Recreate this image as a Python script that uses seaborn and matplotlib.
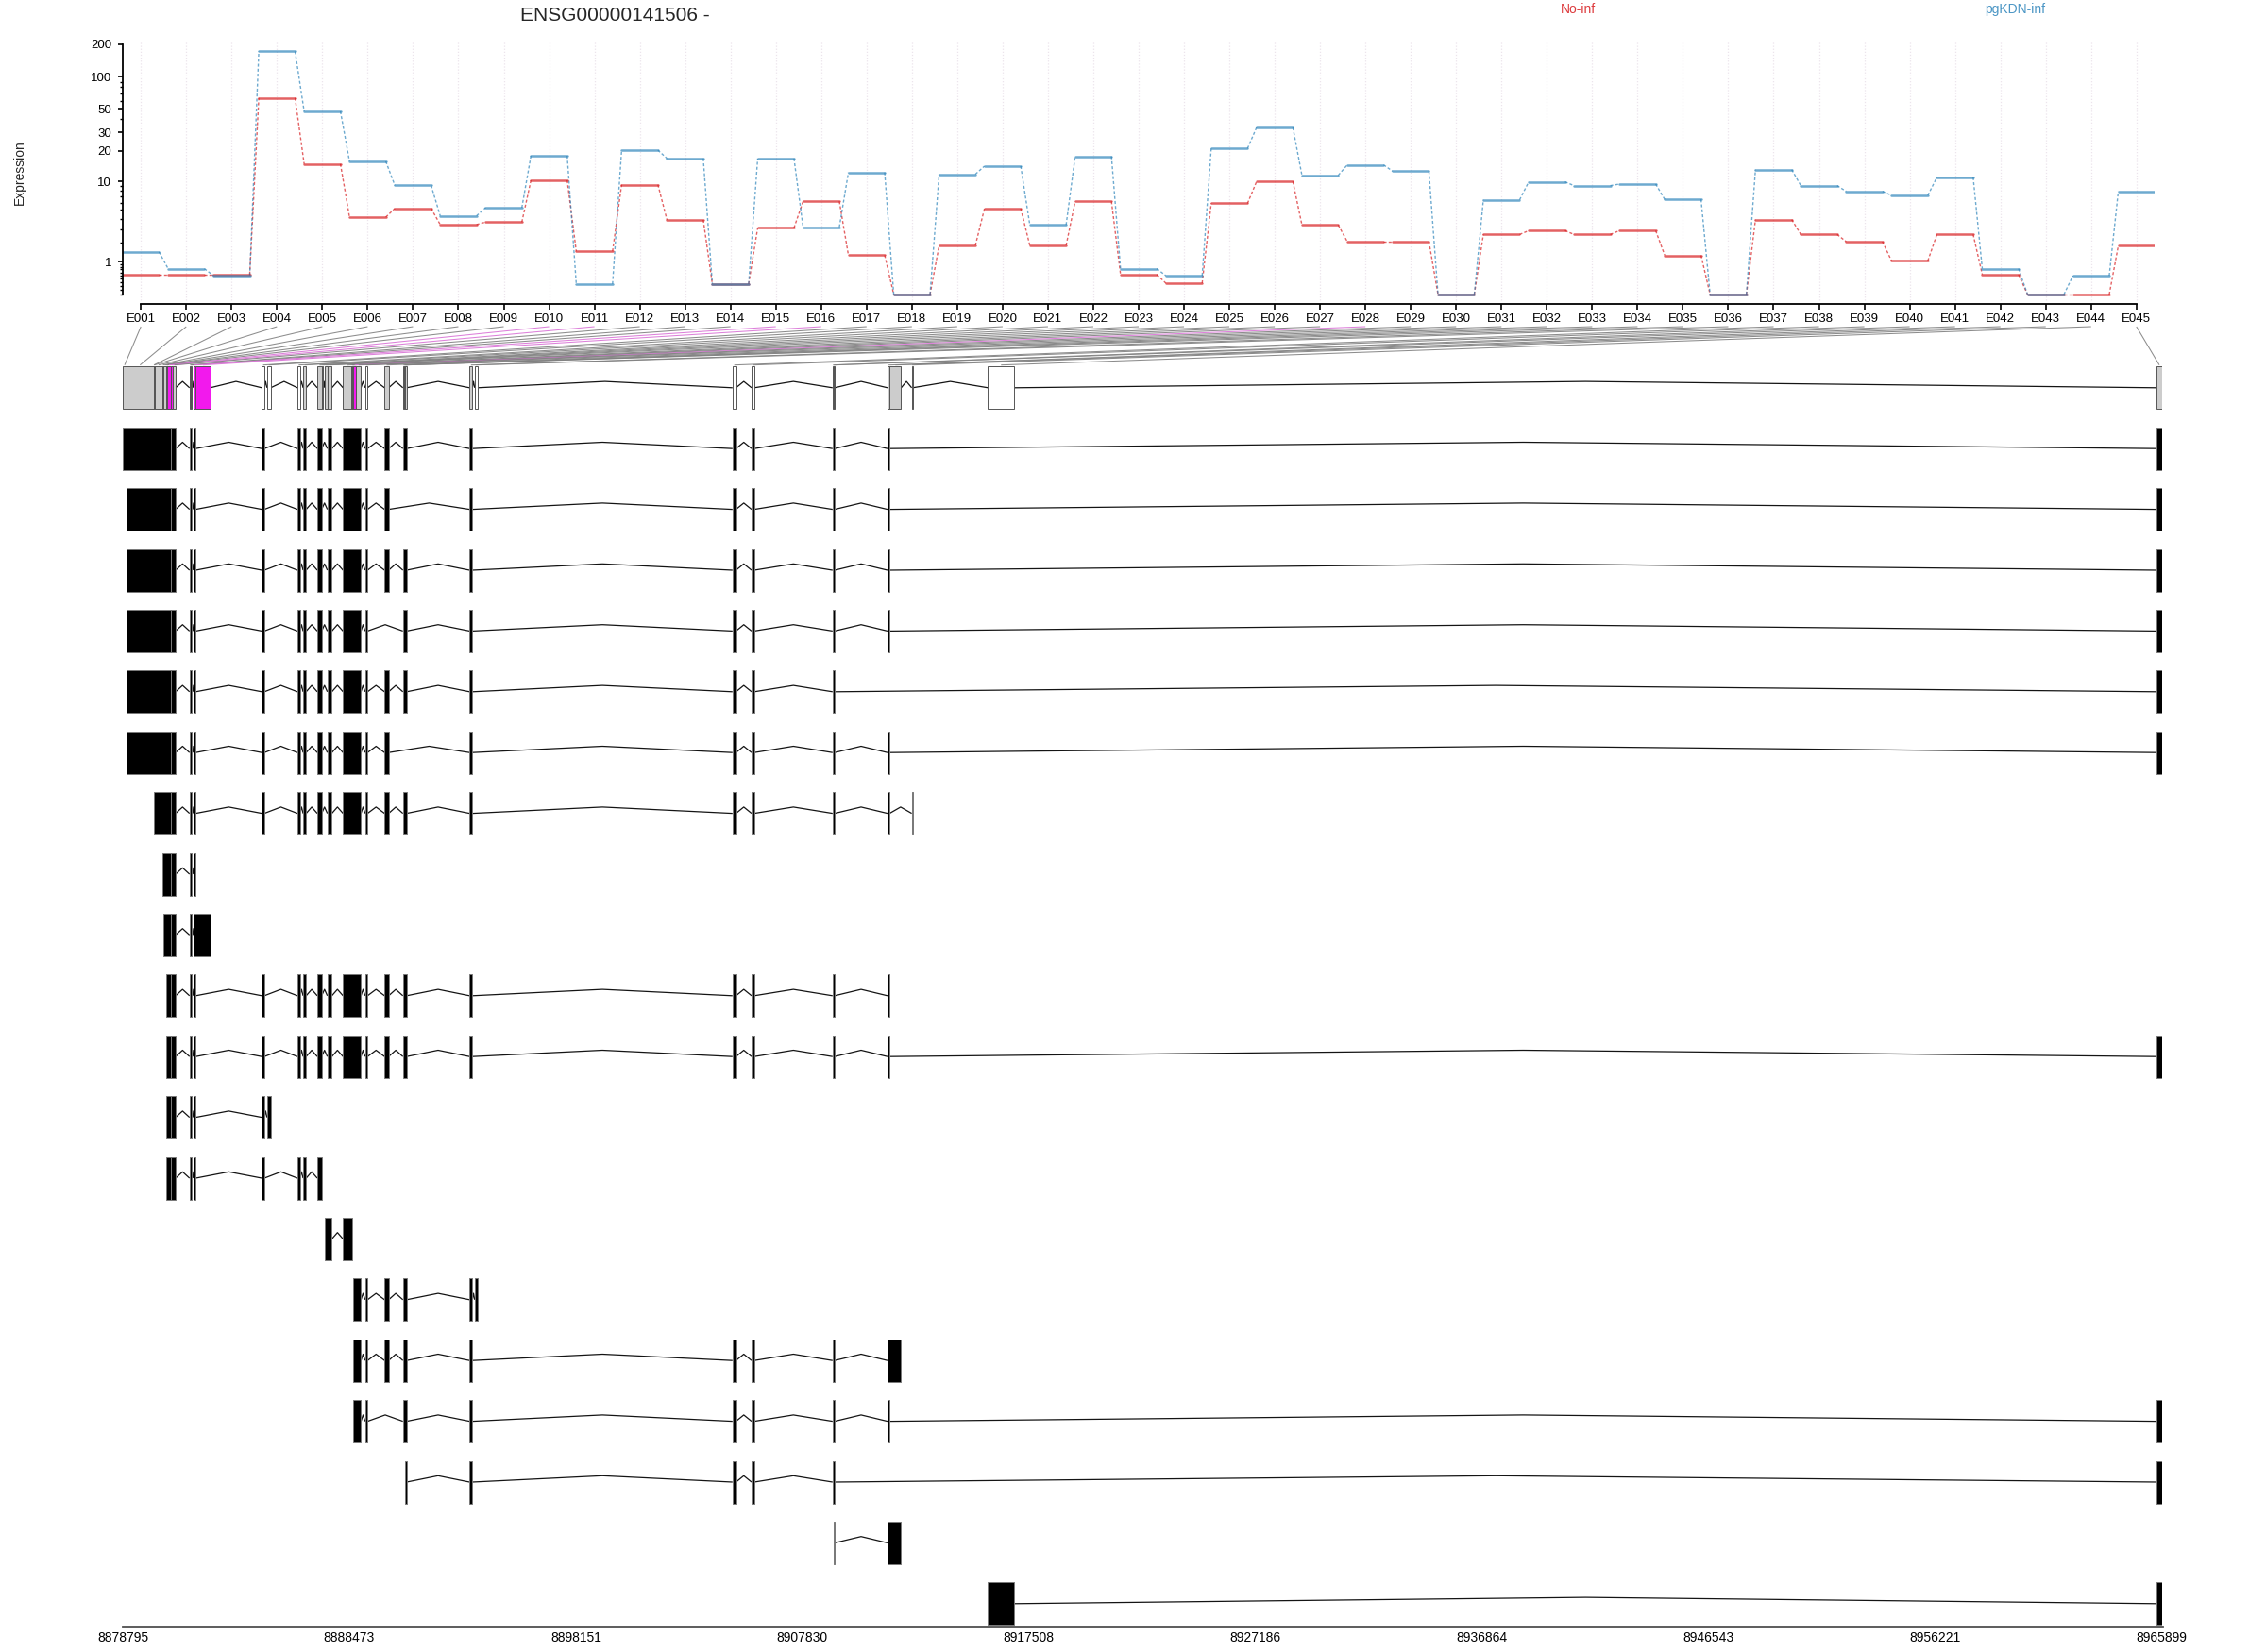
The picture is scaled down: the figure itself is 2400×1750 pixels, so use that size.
import numpy as np
import pandas as pd
import matplotlib
matplotlib.use("Agg")
import matplotlib.pyplot as plt
import seaborn as sns
from matplotlib.patches import Rectangle
from matplotlib.collections import LineCollection

sns.set_theme(style="ticks")
plt.rcParams['font.family'] = ['Liberation Sans', 'DejaVu Sans']

# ---------------- data ----------------
gene_title = "ENSG00000141506 -"
conditions = ["No-inf", "pgKDN-inf"]
exon_ids = ["E%03d" % i for i in range(1, 46)]

expr_noinf = [0.53, 0.53, 0.53, 63.6, 14.9, 4.16, 5.2, 3.4, 3.64, 10.25,
              1.5, 9.25, 3.86, 0.25, 3.1, 6.2, 1.3, 0.0, 1.83, 5.18,
              1.83, 6.2, 0.53, 0.27, 5.9, 9.96, 3.37, 2.07, 2.07, 0.0,
              2.57, 2.87, 2.57, 2.87, 1.29, 0.0, 3.89, 2.57, 2.07, 1.04,
              2.57, 0.53, 0.0, 0.0, 1.81]
expr_pgkdn = [1.47, 0.73, 0.49, 172.0, 47.5, 15.8, 9.1, 4.3, 5.3, 17.9,
              0.25, 20.3, 16.9, 0.25, 16.9, 3.17, 12.3, 0.0, 11.8, 14.2,
              3.37, 17.7, 0.73, 0.49, 21.1, 33.5, 11.5, 14.6, 12.65, 0.0,
              6.44, 9.89, 9.05, 9.39, 6.5, 0.0, 13.1, 9.05, 7.91, 7.17,
              11.0, 0.73, 0.0, 0.49, 7.91]

y_major = [1, 10, 20, 30, 50, 100, 200]
y_minor = [0, 0.1, 0.2, 0.3, 0.4, 0.5, 0.6, 0.7, 0.8, 0.9,
           2, 3, 4, 5, 6, 7, 8, 9, 40, 60, 70, 80, 90]

bin_start = [8878795, 8878956, 8880114, 8880138, 8880166, 8880477, 8880542, 8880642, 8880683, 8880703,
             8880864, 8880945, 8881647, 8881699, 8881812, 8881913, 8884736, 8884954, 8886257, 8886499,
             8887104, 8887294, 8887427, 8887536, 8888205, 8888568, 8888605, 8888637, 8888770, 8889149,
             8889980, 8890762, 8890815, 8890867, 8893610, 8893828, 8904843, 8905658, 8909119, 8909159,
             8911466, 8911555, 8912499, 8915762, 8965697]
bin_end = [8878956, 8880114, 8880138, 8880166, 8880477, 8880542, 8880642, 8880683, 8880703, 8880840,
           8880945, 8881054, 8881699, 8881752, 8881913, 8882534, 8884845, 8885116, 8886366, 8886632,
           8887294, 8887366, 8887536, 8887729, 8888568, 8888605, 8888637, 8888770, 8888972, 8889254,
           8890157, 8890815, 8890867, 8890924, 8893731, 8893945, 8904993, 8905771, 8909159, 8909208,
           8911555, 8912051, 8912539, 8916871, 8965899]
# s = significant, t = tested, u = not tested
bin_status = list("ttttttttts" "sttts" "suuut" "tttttttstu" "tttttuuutt" "tttut")

core = [13, 14, 15, 17, 19, 20, 21, 24, 25, 26, 27, 28, 29, 30, 31, 32, 33, 34, 35, 37, 38, 39, 40, 41]
head1 = list(range(1, 13))
head2 = list(range(2, 13))
transcripts = [
    head1 + core + [45],
    head2 + [b for b in core if b not in (32, 33, 34)] + [45],
    head2 + core + [45],
    head2 + [b for b in core if b != 31] + [45],
    head2 + [b for b in core if b != 41] + [45],
    head2 + [b for b in core if b not in (32, 33, 34)] + [45],
    list(range(3, 13)) + core + [43],
    list(range(6, 13)) + [13, 14, 15],
    list(range(7, 13)) + [13, 14, 15, 16],
    list(range(8, 13)) + core,
    list(range(8, 13)) + core + [45],
    list(range(8, 13)) + [13, 14, 15, 17, 18],
    list(range(8, 13)) + [13, 14, 15, 17, 19, 20, 21],
    [23, 24, 25, 26],
    [28, 29, 30, 31, 32, 33, 34, 35, 36],
    [28, 29, 30, 31, 32, 33, 34, 35, 37, 38, 39, 40, 41, 42],
    [28, 29, 30, 32, 33, 34, 35, 37, 38, 39, 40, 41, 45],
    [34, 35, 37, 38, 39, 40, 45],
    [40, 41, 42],
    [44, 45],
]
genomic_ticks = [8878795, 8888473, 8898151, 8907830, 8917508,
                 8927186, 8936864, 8946543, 8956221, 8965899]

# ---------------- style ----------------
RED = "#D7191C"
BLUE = "#2B83BA"
ALPHA = 175 / 255
palette = {"No-inf": RED, "pgKDN-inf": BLUE}
status_fill = {"s": "#F219ED", "t": "#CCCCCC", "u": "white"}
status_line = {"s": (0.85, 0.45, 0.84, 0.9), "t": (0.5, 0.5, 0.5, 0.9), "u": (0.5, 0.5, 0.5, 0.9)}

W, H = 2400, 1750
fig = plt.figure(figsize=(24, 17.5), dpi=100, facecolor="white")


def fx(px):
    return px / W


def fy(py):
    return 1 - py / H


# ---------------- expression panel ----------------
ax = fig.add_axes([fx(130), fy(322), (2282 - 130) / W, (322 - 40) / H])
ax.set_facecolor("none")

seg_rows, con_rows = [], []
for cond, vals in zip(conditions, [expr_noinf, expr_pgkdn]):
    L = np.log10(np.array(vals) + 1)
    for i, v in enumerate(L):
        idx = i + 1
        seg_rows.append(dict(condition=cond, unit=f"{cond}{idx}", x=idx - 0.4, y=v))
        seg_rows.append(dict(condition=cond, unit=f"{cond}{idx}", x=idx + 0.4, y=v))
        if i < len(L) - 1:
            con_rows.append(dict(condition=cond, unit=f"{cond}{idx}", x=idx + 0.4, y=v))
            con_rows.append(dict(condition=cond, unit=f"{cond}{idx}", x=idx + 0.6, y=L[i + 1]))
seg_df = pd.DataFrame(seg_rows)
con_df = pd.DataFrame(con_rows)

ax.vlines(range(1, 46), -0.05, 2.33, colors="#ECE4EC", linestyles=(0, (1, 1.5)), lw=0.9, zorder=0)
sns.lineplot(data=con_df, x="x", y="y", hue="condition", units="unit", estimator=None,
             palette=palette, legend=False, sort=False, ax=ax, lw=1.0, alpha=ALPHA,
             linestyle=(0, (2.2, 1.6)))
sns.lineplot(data=seg_df, x="x", y="y", hue="condition", units="unit", estimator=None,
             palette=palette, legend=False, sort=False, ax=ax, lw=1.8, alpha=ALPHA)

ax.set_xlim(0.6, 45.4)
ax.set_ylim((312 - 322) / 115.1, (312 - 40) / 115.1)
ax.set_xlabel("")
ax.set_ylabel("")
for s in ["top", "right"]:
    ax.spines[s].set_visible(False)
for s in ["left", "bottom"]:
    ax.spines[s].set_color("black")
    ax.spines[s].set_linewidth(1.3)
ax.spines["left"].set_bounds(0, np.log10(201))
ax.spines["bottom"].set_bounds(1, 45)
ax.set_xticks(range(1, 46))
ax.set_xticklabels(exon_ids, fontsize=9.5)
ax.set_yticks(np.log10(np.array(y_major) + 1.0))
ax.set_yticklabels([str(v) for v in y_major], fontsize=9.5)
ax.set_yticks(np.log10(np.array(y_minor) + 1.0), minor=True)
ax.tick_params(axis="x", length=4, width=1.2, pad=3, colors="black")
ax.tick_params(axis="y", which="major", length=3.5, width=1.2, pad=5, colors="black")
ax.tick_params(axis="y", which="minor", length=2.2, width=1.0, colors="black")

fig.text(fx(651), fy(21.7), gene_title, ha="center", va="baseline", fontsize=15)
fig.text(fx(1672), fy(14), conditions[0], ha="center", va="baseline", fontsize=10,
         color=RED, alpha=0.85)
fig.text(fx(2134), fy(14), conditions[1], ha="center", va="baseline", fontsize=10,
         color=BLUE, alpha=0.85)
fig.text(fx(21), fy(182.5), "Expression", rotation=90, ha="center", va="center", fontsize=10)

# ---------------- gene model panel ----------------
ROW0, ROWH = 410.8, 64.4
axg = fig.add_axes([fx(130), 0.0, (2289.5 - 130) / W, (1750 - 326) / H])
axg.set_facecolor("none")
axg.set_xlim(genomic_ticks[0], genomic_ticks[-1])
axg.set_ylim((1750 - ROW0) / ROWH, (326 - ROW0) / ROWH)
BOXH = 45 / ROWH
HAT = 6.7 / ROWH

bs = np.array(bin_start)
be = np.array(bin_end)


def hats(starts, ends, r):
    segs = []
    for k in range(len(starts) - 1):
        e, s2 = ends[k], starts[k + 1]
        if s2 > e:
            segs.append([(e, r), ((e + s2) / 2, r - HAT), (s2, r)])
    return segs


# exon track
track_hats = hats(bs, be, 0)
axg.add_collection(LineCollection(track_hats, colors="#141414", lw=0.9, zorder=1))
for s, e, st in zip(bs, be, bin_status):
    axg.add_patch(Rectangle((s, -BOXH / 2), e - s, BOXH, facecolor=status_fill[st],
                            edgecolor="#555555", lw=0.7, zorder=2))

# connector lines from exon labels to bins
fig.canvas.draw()
lab_disp = ax.transData.transform(np.column_stack([np.arange(1, 46), np.zeros(45)]))[:, 0]
lab_g = axg.transData.inverted().transform(np.column_stack([lab_disp, np.zeros(45)]))[:, 0]
y_top = (346 - ROW0) / ROWH
y_bot = (386.7 - ROW0) / ROWH
conn = [[(lab_g[i], y_top), ((bs[i] + be[i]) / 2, y_bot)] for i in range(45)]
axg.add_collection(LineCollection(conn, colors=[status_line[s] for s in bin_status],
                                  lw=0.75, zorder=1))

# transcripts
for r, tb in enumerate(transcripts, start=1):
    tb = sorted(tb)
    ex = []
    for b in tb:
        s, e = bs[b - 1], be[b - 1]
        if ex and s <= ex[-1][1]:
            ex[-1][1] = max(ex[-1][1], e)
        else:
            ex.append([s, e])
    st = [a for a, _ in ex]
    en = [b for _, b in ex]
    axg.add_collection(LineCollection(hats(st, en, r), colors="#141414", lw=0.9, zorder=1))
    for s, e in ex:
        axg.add_patch(Rectangle((s, r - BOXH / 2), e - s, BOXH, facecolor="black",
                                edgecolor="#7A7A7A", lw=0.7, zorder=2))

for s in ["top", "right", "left"]:
    axg.spines[s].set_visible(False)
axg.spines["bottom"].set_position(("data", (1722.7 - ROW0) / ROWH))
axg.spines["bottom"].set_color("#4D4D4D")
axg.spines["bottom"].set_linewidth(2.0)
axg.set_yticks([])
axg.set_xticks(genomic_ticks)
axg.set_xticklabels([str(t) for t in genomic_ticks], fontsize=10)
axg.tick_params(axis="x", length=0, pad=3.5, colors="black")

fig.savefig("out.png", dpi=100, facecolor="white")
